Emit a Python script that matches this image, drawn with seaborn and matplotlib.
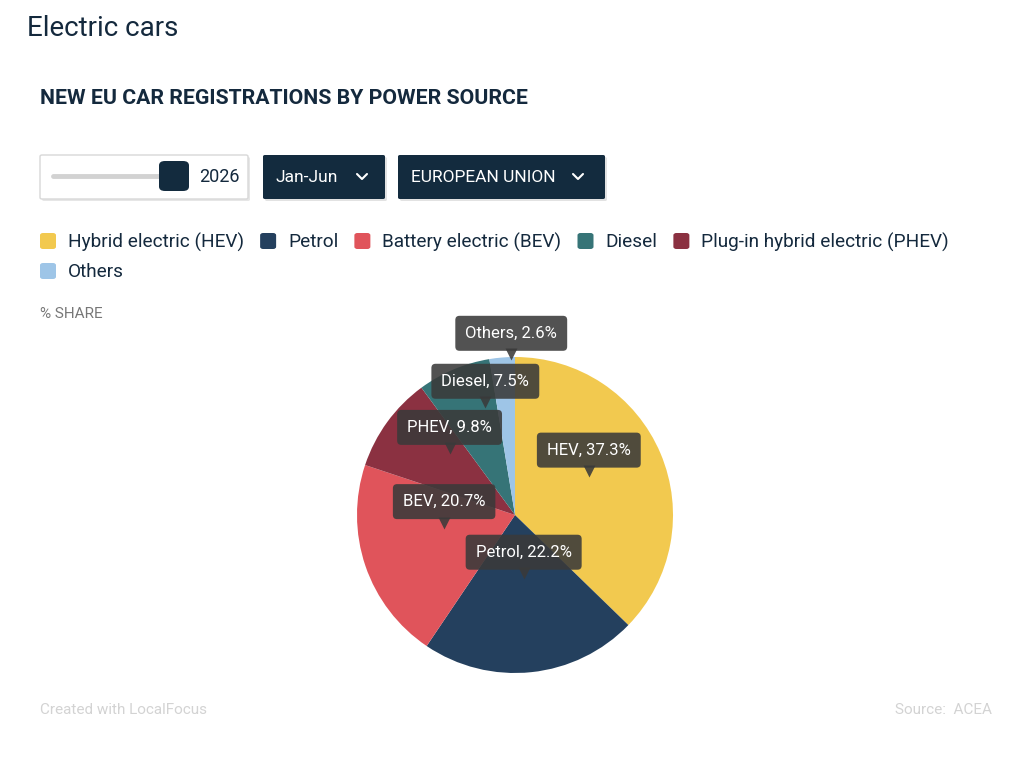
import numpy as np
import matplotlib
matplotlib.use("Agg")
import matplotlib.pyplot as plt
import seaborn as sns
from matplotlib.patches import FancyBboxPatch
from matplotlib.lines import Line2D
from matplotlib import transforms

# data
categories = ["Hybrid electric (HEV)", "Petrol", "Battery electric (BEV)", "Diesel",
              "Plug-in hybrid electric (PHEV)", "Others"]
pie_order = ["HEV", "Petrol", "BEV", "PHEV", "Diesel", "Others"]
shares = [37.3, 22.2, 20.7, 9.8, 7.5, 2.6]
colors = {"HEV": "#F2C94F", "Petrol": "#24405E", "BEV": "#E0545B",
          "Diesel": "#367477", "PHEV": "#8B3141", "Others": "#9EC5E7"}
legend_keys = ["HEV", "Petrol", "BEV", "Diesel", "PHEV", "Others"]

sns.set_theme(style="white")
plt.rcParams["font.family"] = ["Roboto", "DejaVu Sans"]

W, H = 1024, 760
fig = plt.figure(figsize=(W / 100, H / 100), dpi=100)
navy = "#14293D"
dark = "#132B3E"


def px(x, y):
    return x / W, 1 - y / H


def box(x0, y0, x1, y1, fc, ec="none", lw=0, r=2, z=1):
    p = FancyBboxPatch(px(x0, y1), (x1 - x0) / W, (y1 - y0) / H,
                       boxstyle=f"round,pad=0,rounding_size={r / W}",
                       transform=fig.transFigure, fc=fc, ec=ec, lw=lw, zorder=z)
    fig.add_artist(p)


# titles
fig.text(*px(27, 28), "Electric cars", fontsize=20, color=navy, va="center", ha="left")
fig.text(*px(40, 99), "NEW EU CAR REGISTRATIONS BY POWER SOURCE", fontsize=15.3,
         fontweight="bold", color=navy, va="center", ha="left")

# controls
box(42, 157, 250, 201, "#E6E6E6", z=1)  # shadow
box(40, 155, 248, 199, "white", ec="#D8D8D8", lw=1, z=2)
fig.add_artist(Line2D([53 / W, 165 / W], [1 - 176 / H] * 2, color="#D2D2D2", lw=3.5,
                      transform=fig.transFigure, zorder=3, solid_capstyle="round"))
box(159, 161, 189, 191, dark, r=6, z=4)
fig.text(*px(219, 177), "2026", fontsize=13, color=navy, ha="center", va="center")
for (x0, x1, label, cx) in [(263, 385, "Jan-Jun", 362), (398, 605, "EUROPEAN UNION", 578)]:
    box(x0 + 2, 157, x1 + 2, 201, "#E2E2E2", z=1)
    box(x0, 155, x1, 199, dark, z=2)
    fig.text(*px(x0 + 13, 177), label, fontsize=12.5, color="white", ha="left", va="center")
    fig.add_artist(Line2D([(cx - 5) / W, cx / W, (cx + 5) / W],
                          [1 - 174 / H, 1 - 179 / H, 1 - 174 / H], color="white", lw=1.5,
                          transform=fig.transFigure, zorder=3))

# legend drawn manually with wrapping
renderer = fig.canvas.get_renderer()
x, y = 40, 241
for key, name in zip(legend_keys, categories):
    if key == "Others":
        x, y = 40, 271
    box(x, y - 8, x + 16, y + 8, colors[key], r=3, z=2)
    t = fig.text(*px(x + 28, y + 1), name, fontsize=13.7, color=navy, ha="left", va="center")
    bb = t.get_window_extent(renderer)
    x = x + 28 + bb.width + 16

fig.text(*px(40, 314), "% SHARE", fontsize=11, color="#777777", ha="left", va="center")

# pie
ax = fig.add_axes([357 / W, (H - 673) / H, 316 / W, 316 / H])
wedges, _ = ax.pie(shares, colors=[colors[k] for k in pie_order], startangle=90,
                   counterclock=False, radius=1, wedgeprops=dict(linewidth=0))
ax.set_xlim(-1, 1)
ax.set_ylim(-1, 1)
ax.set_aspect("equal")
ax.axis("off")

# tooltip-like labels
label_r = [0.55, 0.36, 0.45, 0.6, 0.75, 1.03]
label_da = [-9, -3, 14, 10, 8, 3]
cum = np.cumsum([0] + shares[:-1])
tri_tf = transforms.offset_copy(ax.transData, fig=fig, x=0, y=-2, units="dots")
for i, k in enumerate(pie_order):
    mid = (cum[i] + shares[i] / 2) / 100 * 360 + label_da[i]
    tx = label_r[i] * np.sin(np.radians(mid))
    ty = label_r[i] * np.cos(np.radians(mid))
    ax.plot(tx, ty, marker="v", ms=8, color="#3A3A3A", alpha=0.88, mec="none",
            transform=tri_tf, clip_on=False, zorder=5)
    ax.annotate(f"{k}, {shares[i]:.1f}%", xy=(tx, ty), xytext=(0, 19),
                textcoords="offset pixels", ha="center", va="center", fontsize=12,
                color="white", zorder=6, annotation_clip=False,
                bbox=dict(boxstyle="round,pad=0.6,rounding_size=0.25", fc="#3A3A3A",
                          ec="none", alpha=0.88))

# footer
fig.text(*px(40, 710), "Created with LocalFocus", fontsize=11, color="#D3D3D3",
         ha="left", va="center")
fig.text(*px(992, 710), "Source:  ACEA", fontsize=11, color="#D3D3D3", ha="right", va="center")

fig.savefig("out.png", dpi=100, facecolor="white")
